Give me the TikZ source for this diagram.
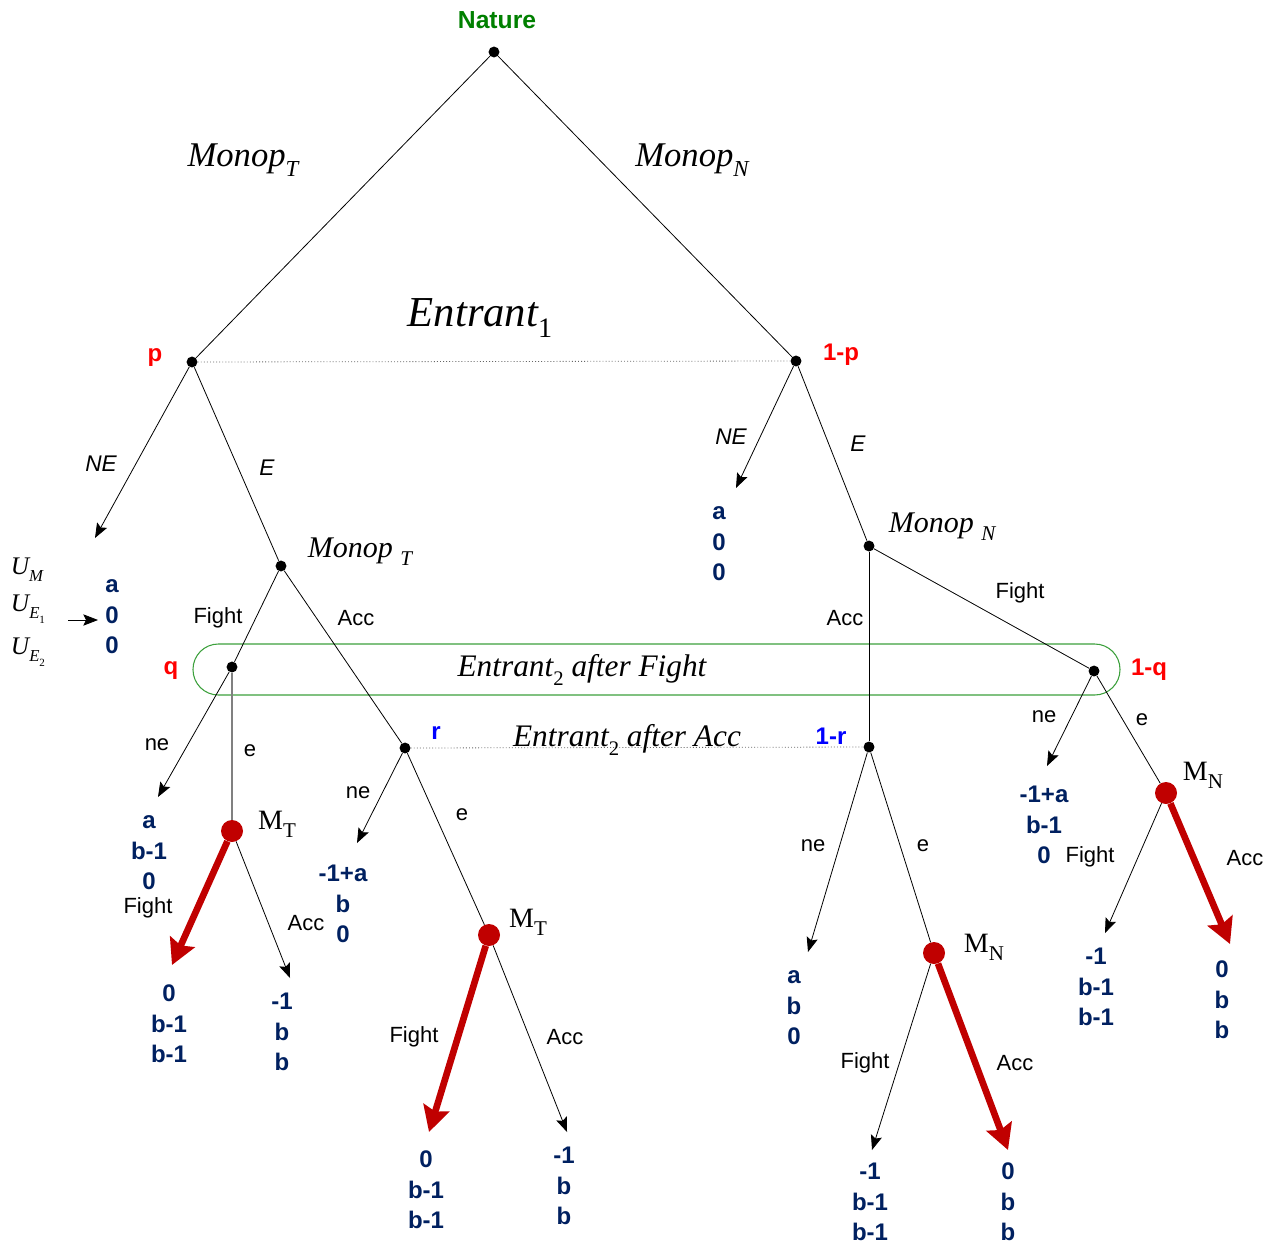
\documentclass[tikz,border=0pt]{standalone}
\usepackage{fontspec}
\setmainfont{Liberation Serif}
\setsansfont{Liberation Sans}
\usetikzlibrary{arrows.meta}
\definecolor{payoff}{HTML}{002060}
\definecolor{mred}{HTML}{C00000}
\definecolor{boxgreen}{HTML}{3CA03C}
\definecolor{natgreen}{HTML}{008000}
\newcommand\lowidx[2][0.66]{\raisebox{-0.6ex}{\scalebox{#1}{#2}}}
\begin{document}
\begin{tikzpicture}[x=0.75pt,y=-0.75pt,
  dot/.style={circle,fill=black,inner sep=0pt,minimum size=8.2pt},
  dm/.style={circle,fill=mred,inner sep=0pt,minimum size=16.5pt},
  branch/.style={line width=0.6pt},
  move/.style={line width=0.6pt,-{Stealth[length=11pt,width=8.5pt,inset=2pt]}},
  best/.style={mred,line width=5pt,-{Stealth[length=19pt,width=20pt,inset=3pt]}},
  info/.style={line width=0.6pt,dash pattern=on 0.7pt off 1.6pt,gray!80!black},
  lab/.style={font=\sffamily\fontsize{16.5}{20}\selectfont},
  ilab/.style={font=\sffamily\itshape\fontsize{17}{20}\selectfont},
  pay/.style={text=payoff,font=\sffamily\bfseries\fontsize{18}{22.9}\selectfont,align=center,inner sep=0pt},
  prob/.style={font=\sffamily\bfseries\fontsize{18}{20}\selectfont},
  mlab/.style={font=\fontsize{21}{24}\selectfont},
  pl/.style={font=\itshape\fontsize{22.5}{26}\selectfont}
]
\useasboundingbox (0,0) rectangle (1277,1245);

% decision nodes
\node[dot] (root) at (494,52) {};
\node[dot] (p1) at (192,362) {};
\node[dot] (p2) at (796,361) {};
\node[dot] (mt) at (281,566) {};
\node[dot] (mn) at (869,546) {};
\node[dot] (q1) at (232,667) {};
\node[dot] (q2) at (1094,671) {};
\node[dot] (r1) at (405,748) {};
\node[dot] (r2) at (869,747) {};
\node[dm] (MT1) at (232,831) {};
\node[dm] (MT2) at (489,935) {};
\node[dm] (MN1) at (934,953) {};
\node[dm] (MN2) at (1166,793) {};

% loose ends of terminal moves
\coordinate (ne1) at (95,538);
\coordinate (ne2) at (736,488);
\coordinate (ne3) at (158,797);
\coordinate (ne4) at (357,843);
\coordinate (ne5) at (808,952);
\coordinate (ne6) at (1047,766);
\coordinate (f1) at (172,965);
\coordinate (a1) at (290,978);
\coordinate (f2) at (429,1132);
\coordinate (a2) at (567,1132);
\coordinate (f3) at (872,1150);
\coordinate (a3) at (1008,1150);
\coordinate (f4) at (1105,933);
\coordinate (a4) at (1230,944);
\coordinate (u0) at (68,620);
\coordinate (u1) at (98,620);

% information sets
\draw[info] (p1) -- (p2);
\draw[info] (r1) -- (r2);
\draw[boxgreen,line width=0.8pt,rounded corners=19pt] (193,644) rectangle (1120,695);

% branches
\draw[branch] (root) -- (p1);
\draw[branch] (root) -- (p2);
\draw[move] (p1) -- (ne1);
\draw[branch] (p1) -- (mt);
\draw[move] (p2) -- (ne2);
\draw[branch] (p2) -- (mn);
\draw[branch] (mt) -- (q1);
\draw[branch] (mt) -- (r1);
\draw[branch] (mn) -- (r2);
\draw[branch] (mn) -- (q2);
\draw[move] (q1) -- (ne3);
\draw[gray,line width=1.1pt] (q1) -- (MT1);
\draw[move] (r1) -- (ne4);
\draw[branch] (r1) -- (MT2);
\draw[move] (r2) -- (ne5);
\draw[branch] (r2) -- (MN1);
\draw[move] (q2) -- (ne6);
\draw[branch] (q2) -- (MN2);
\draw[best] (MT1) -- (f1);
\draw[move] (MT1) -- (a1);
\draw[best] (MT2) -- (f2);
\draw[move] (MT2) -- (a2);
\draw[move] (MN1) -- (f3);
\draw[best] (MN1) -- (a3);
\draw[move] (MN2) -- (f4);
\draw[best] (MN2) -- (a4);
\draw[move] (u0) -- (u1);

% players and information set names
\node[font=\sffamily\bfseries\fontsize{18.5}{20}\selectfont,text=natgreen] (nat) at (497,20) {Nature};
\node[font=\itshape\fontsize{26}{30}\selectfont] (lt) at (243,160) {Monop\lowidx{T}};
\node[font=\itshape\fontsize{26}{30}\selectfont] (ln) at (692,160) {Monop\lowidx{N}};
\node[font=\itshape\fontsize{32}{36}\selectfont] (ent1) at (480,318) {Entrant\lowidx{\upshape 1}};
\node[pl] (lmt) at (360,552) {Monop \lowidx[0.7]{T}};
\node[pl] (lmn) at (942,527) {Monop \lowidx[0.7]{N}};
\node[font=\itshape\fontsize{23.5}{26}\selectfont] (ent2f) at (582,670) {Entrant\lowidx{\upshape 2} after Fight};
\node[font=\itshape\fontsize{23.5}{26}\selectfont] (ent2a) at (627,740) {Entrant\lowidx{\upshape 2} after Acc};
\node[mlab] (lMT1) at (277,824) {M\lowidx[0.75]{T}};
\node[mlab] (lMT2) at (528,922) {M\lowidx[0.75]{T}};
\node[mlab] (lMN1) at (984,947) {M\lowidx[0.75]{N}};
\node[mlab] (lMN2) at (1203,775) {M\lowidx[0.75]{N}};

% beliefs
\node[prob,text=red] (bp) at (155,358) {p};
\node[prob,text=red] (bp2) at (841,355) {1-p};
\node[prob,text=red] (bq) at (171,671) {q};
\node[prob,text=red] (bq2) at (1149,670) {1-q};
\node[prob,text=blue] (br) at (436,733) {r};
\node[prob,text=blue] (br2) at (831,736) {1-r};

% move labels
\node[ilab] (tNE1) at (101,464) {NE};
\node[ilab] (tE1) at (267,468) {E};
\node[ilab] (tNE2) at (731,437) {NE};
\node[ilab] (tE2) at (858,444) {E};
\node[lab] (tF1) at (218,618) {Fight};
\node[lab] (tA1) at (356,618) {Acc};
\node[lab] (tA2) at (845,618) {Acc};
\node[lab] (tF2) at (1020,593) {Fight};
\node[lab] (tne1) at (157,745) {ne};
\node[lab] (te1) at (250,751) {e};
\node[lab] (tne2) at (358,793) {ne};
\node[lab] (te2) at (462,815) {e};
\node[lab] (tne3) at (813,846) {ne};
\node[lab] (te3) at (923,846) {e};
\node[lab] (tne4) at (1044,717) {ne};
\node[lab] (te4) at (1142,720) {e};
\node[lab] (tF3) at (148,908) {Fight};
\node[lab] (tA3) at (306,923) {Acc};
\node[lab] (tF4) at (414,1037) {Fight};
\node[lab] (tA4) at (565,1037) {Acc};
\node[lab] (tF5) at (865,1063) {Fight};
\node[lab] (tA5) at (1015,1063) {Acc};
\node[lab] (tF6) at (1090,857) {Fight};
\node[lab] (tA6) at (1245,858) {Acc};

% utility legend
\node[font=\itshape\fontsize{19}{22}\selectfont] (uM) at (27,570) {U\lowidx{M}};
\node[font=\itshape\fontsize{19}{22}\selectfont] (uE1) at (28,609) {U\lowidx{E\lowidx{\upshape 1}}};
\node[font=\itshape\fontsize{19}{22}\selectfont] (uE2) at (28,652) {U\lowidx{E\lowidx{\upshape 2}}};

% payoffs
\node[pay] (y1) at (112,617) {a\\0\\0};
\node[pay] (y2) at (719,544) {a\\0\\0};
\node[pay] (y3) at (149,853) {a\\b-1\\0};
\node[pay] (y4) at (169,1024) {0\\b-1\\b-1};
\node[pay] (y5) at (282,1032) {-1\\b\\b};
\node[pay] (y6) at (343,904) {-1+a\\b\\0};
\node[pay] (y7) at (426,1190) {0\\b-1\\b-1};
\node[pay] (y8) at (564,1186) {-1\\b\\b};
\node[pay] (y9) at (794,1008) {a\\b\\0};
\node[pay] (y10) at (870,1202) {-1\\b-1\\b-1};
\node[pay] (y11) at (1008,1202) {0\\b\\b};
\node[pay] (y12) at (1044,825) {-1+a\\b-1\\0};
\node[pay] (y13) at (1096,987) {-1\\b-1\\b-1};
\node[pay] (y14) at (1222,1000) {0\\b\\b};
\end{tikzpicture}
\end{document}
